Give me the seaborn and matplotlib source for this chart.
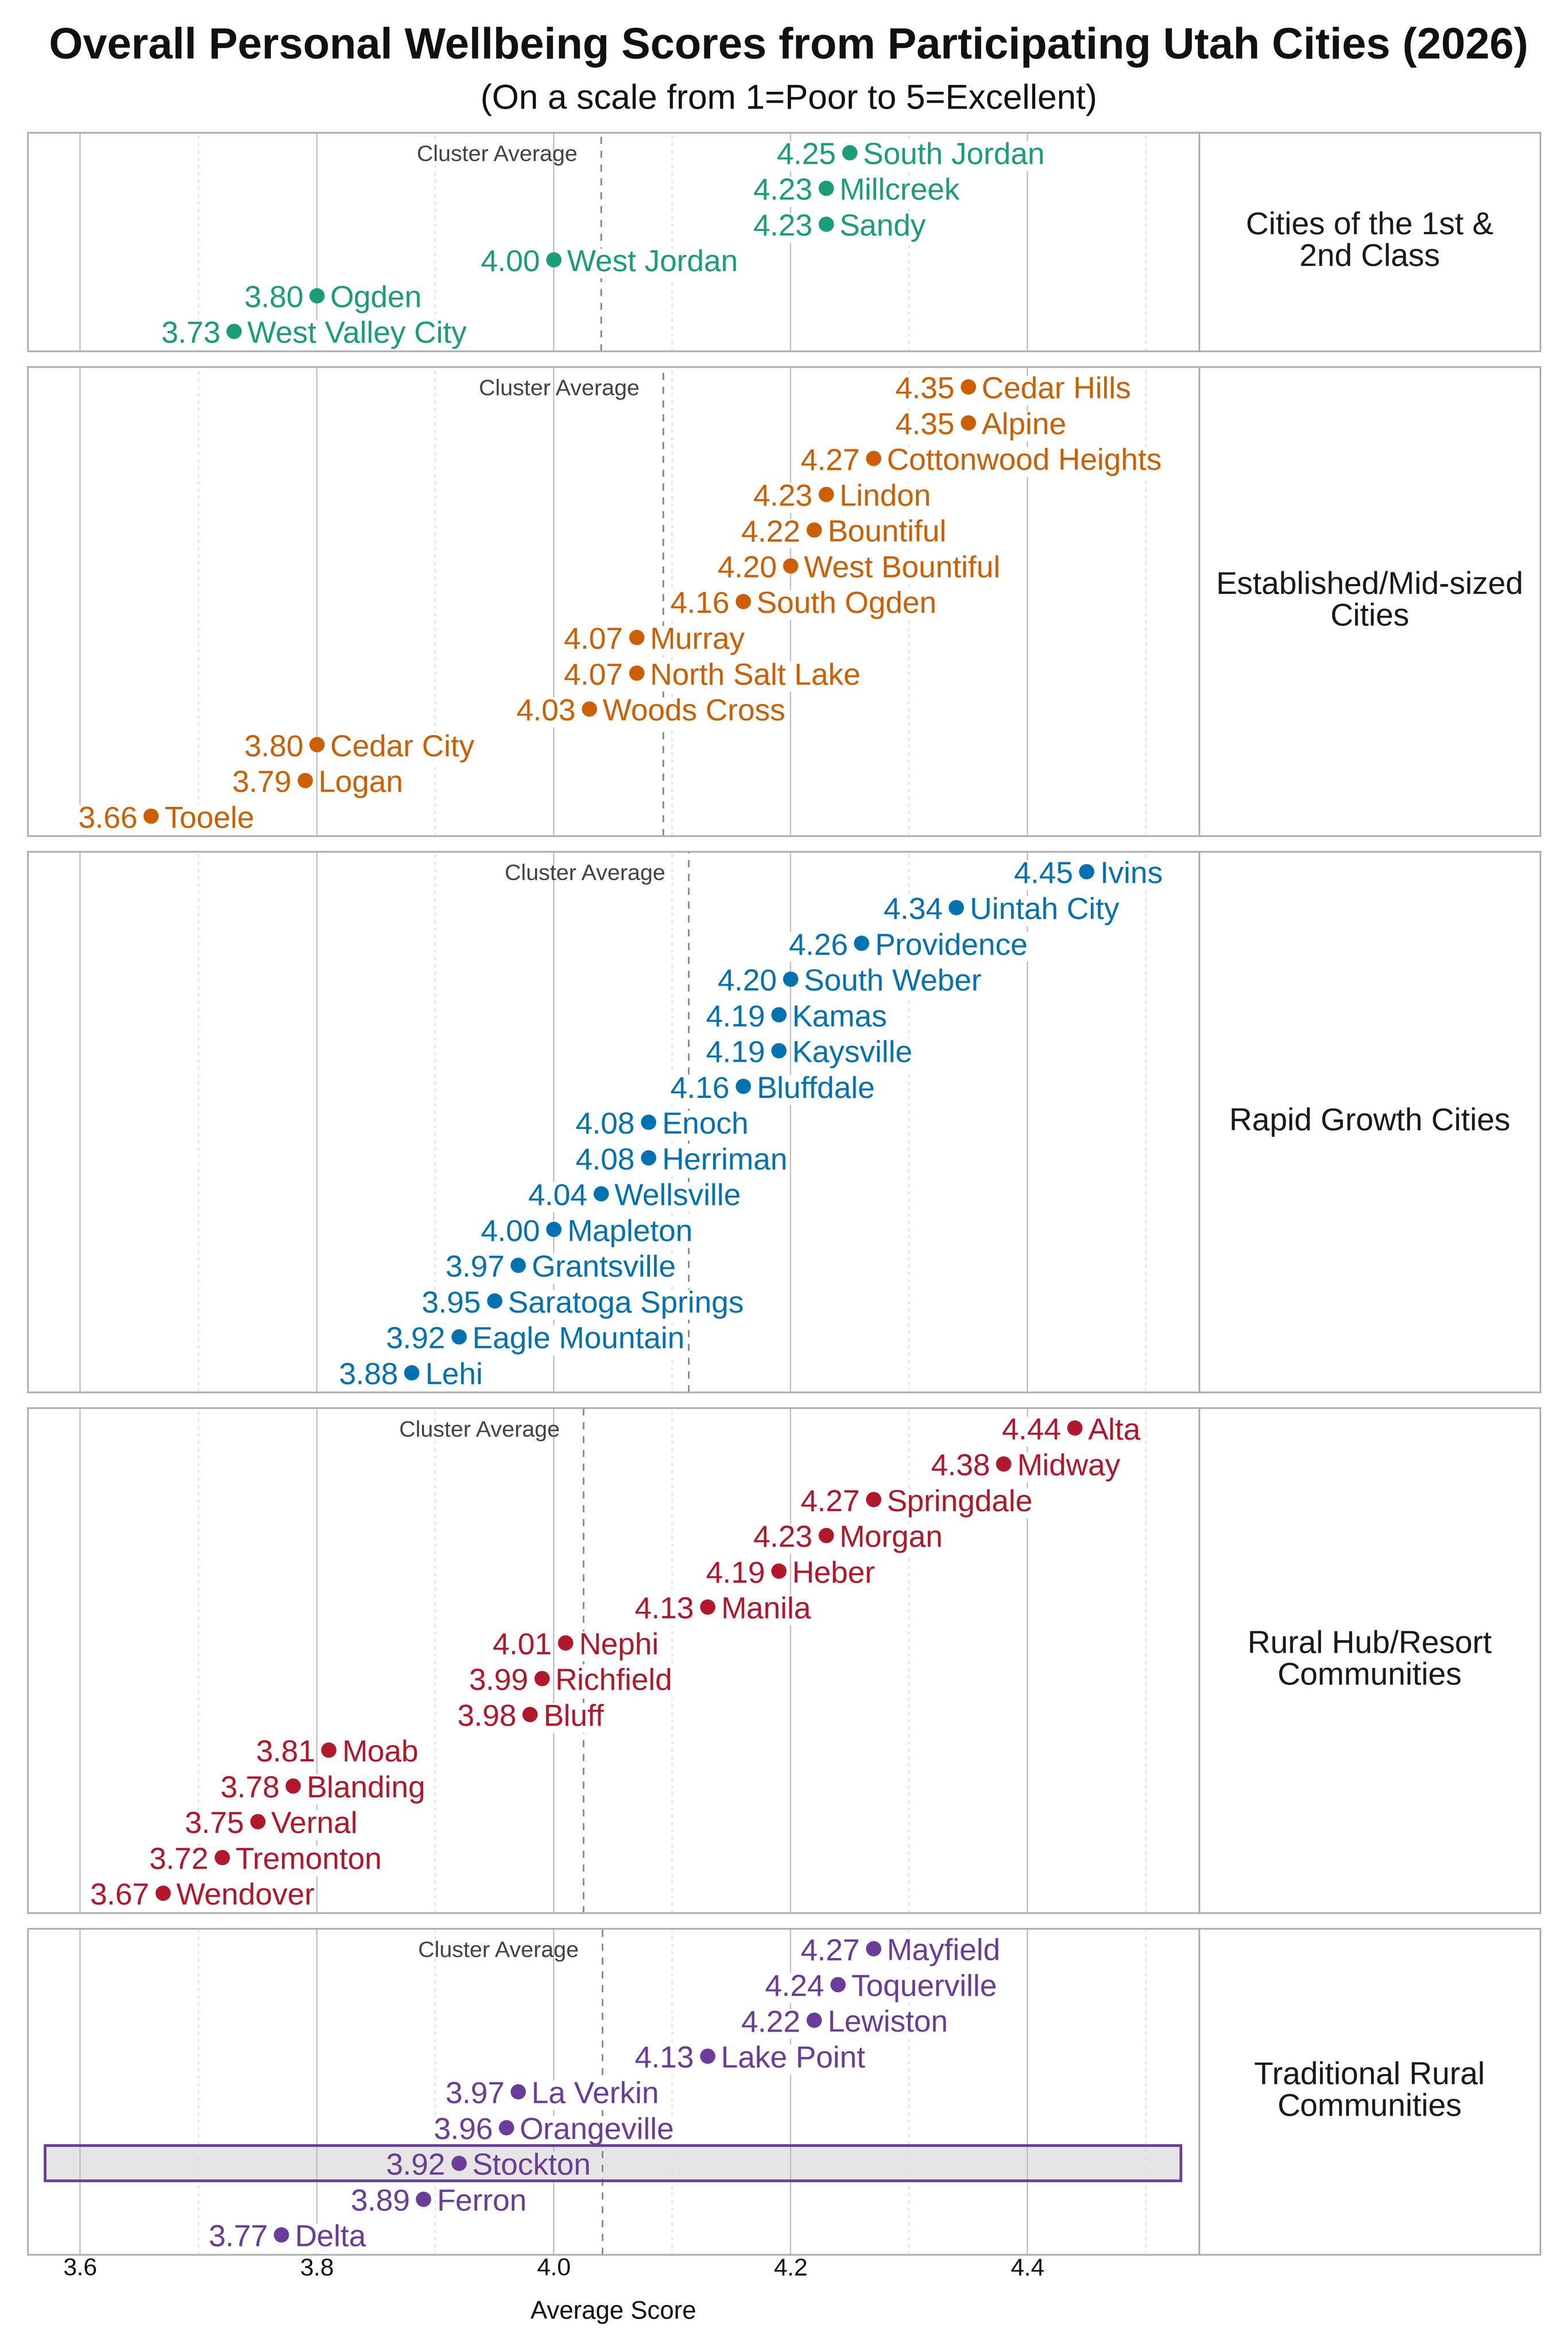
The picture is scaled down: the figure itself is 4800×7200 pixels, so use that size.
import pandas as pd
import seaborn as sns
import matplotlib.pyplot as plt
from matplotlib.patches import Rectangle
from matplotlib.transforms import blended_transform_factory

# === Data ===
cluster_names = [
    "Cities of the 1st &\n2nd Class",
    "Established/Mid-sized\nCities",
    "Rapid Growth Cities",
    "Rural Hub/Resort\nCommunities",
    "Traditional Rural\nCommunities",
]
cluster_colors = ["#1b9e77", "#cc6000", "#0072b2", "#b2182b", "#6a3d9a"]

first_class_cities = ["South Jordan", "Millcreek", "Sandy", "West Jordan", "Ogden", "West Valley City"]
first_class_scores = [4.25, 4.23, 4.23, 4.00, 3.80, 3.73]

established_cities = ["Cedar Hills", "Alpine", "Cottonwood Heights", "Lindon", "Bountiful",
                      "West Bountiful", "South Ogden", "Murray", "North Salt Lake", "Woods Cross",
                      "Cedar City", "Logan", "Tooele"]
established_scores = [4.35, 4.35, 4.27, 4.23, 4.22, 4.20, 4.16, 4.07, 4.07, 4.03, 3.80, 3.79, 3.66]

rapid_growth_cities = ["Ivins", "Uintah City", "Providence", "South Weber", "Kamas", "Kaysville",
                       "Bluffdale", "Enoch", "Herriman", "Wellsville", "Mapleton", "Grantsville",
                       "Saratoga Springs", "Eagle Mountain", "Lehi"]
rapid_growth_scores = [4.45, 4.34, 4.26, 4.20, 4.19, 4.19, 4.16, 4.08, 4.08, 4.04, 4.00, 3.97,
                       3.95, 3.92, 3.88]

rural_hub_cities = ["Alta", "Midway", "Springdale", "Morgan", "Heber", "Manila", "Nephi",
                    "Richfield", "Bluff", "Moab", "Blanding", "Vernal", "Tremonton", "Wendover"]
rural_hub_scores = [4.44, 4.38, 4.27, 4.23, 4.19, 4.13, 4.01, 3.99, 3.98, 3.81, 3.78, 3.75,
                    3.72, 3.67]

traditional_cities = ["Mayfield", "Toquerville", "Lewiston", "Lake Point", "La Verkin",
                      "Orangeville", "Stockton", "Ferron", "Delta"]
traditional_scores = [4.27, 4.24, 4.22, 4.13, 3.97, 3.96, 3.92, 3.89, 3.77]

highlight_city = "Stockton"

panels = [
    (first_class_cities, first_class_scores),
    (established_cities, established_scores),
    (rapid_growth_cities, rapid_growth_scores),
    (rural_hub_cities, rural_hub_scores),
    (traditional_cities, traditional_scores),
]

major_ticks = [3.6, 3.8, 4.0, 4.2, 4.4]
minor_ticks = [3.7, 3.9, 4.1, 4.3, 4.5]

# === Style ===
sns.set_theme(style="white")
plt.rcParams['font.family'] = ['Liberation Sans', 'DejaVu Sans']

W, H = 1040, 1560  # layout units (pixels at 100 dpi)
fig = plt.figure(figsize=(W / 100, H / 100))

# panel layout (in layout pixels)
top_px, row_px, pad_px, gap_px = 87.9, 23.73, 13.2, 10.4
left_px, split_px, right_px = 18.5, 795.3, 1021.5
pad_rows = pad_px / row_px
edge = "#adadad"
label_size = 14.6

y_cur = top_px
for i, ((cities, scores), label, color) in enumerate(zip(panels, cluster_names, cluster_colors)):
    h = (len(cities) - 1) * row_px + 2 * pad_px
    y0 = 1 - (y_cur + h) / H
    ax = fig.add_axes([left_px / W, y0, (split_px - left_px) / W, h / H])
    strip = fig.add_axes([split_px / W, y0, (right_px - split_px) / W, h / H])
    y_cur += h + gap_px

    df = pd.DataFrame({"city": cities, "score": scores, "pos": range(len(cities))})
    avg = df["score"].mean()

    sns.scatterplot(data=df, x="score", y="pos", color=color, s=53, linewidth=0,
                    ax=ax, zorder=4, legend=False)

    ax.set_xlim(3.556, 4.545)
    ax.set_ylim(len(cities) - 1 + pad_rows, -pad_rows)
    ax.set_xticks(major_ticks)
    ax.set_xticks(minor_ticks, minor=True)
    ax.set_yticks([])
    ax.set_axisbelow(True)
    ax.grid(which="major", axis="x", color="#bdbdbd", lw=0.6)
    ax.grid(which="minor", axis="x", color="#d9d9d9", lw=0.5, ls=(0, (3, 4)))
    ax.tick_params(axis="x", which="both", length=0, pad=1.5, labelsize=11.7, labelcolor="#111111")
    ax.set_ylabel("")
    ax.set_xlabel("")
    for sp in ax.spines.values():
        sp.set_color(edge)
        sp.set_linewidth(0.8)

    ax.axvline(avg, color="#8a8a8a", lw=0.8, ls=(0, (4.25, 4.0)), zorder=2)
    ax.annotate("Cluster Average", (avg, 0), xytext=(-11.2, -4.1), textcoords="offset points",
                ha="right", va="baseline", fontsize=10.8, color="#444444", zorder=2)

    for _, row in df.iterrows():
        bg = "white"
        if row["city"] == highlight_city:
            bg = "#e5e5e5"
            tr = blended_transform_factory(ax.transAxes, ax.transData)
            # fill below the grid, outline above the labels
            ax.add_patch(Rectangle((0.0147, row["pos"] - 0.495), 0.9698, 0.99, transform=tr,
                                   facecolor="#e5e5e5", edgecolor="none", zorder=0.4))
            ax.add_patch(Rectangle((0.0147, row["pos"] - 0.495), 0.9698, 0.99, transform=tr,
                                   facecolor="none", edgecolor=color, lw=1.3, zorder=3.5))
        box = dict(boxstyle="square,pad=0.03", fc=bg, ec="none")
        ax.annotate(f"{row['score']:.2f}", (row["score"], row["pos"]), xytext=(-6.4, -5.5),
                    textcoords="offset points", ha="right", va="baseline", fontsize=label_size,
                    color=color, bbox=box, zorder=3)
        ax.annotate(row["city"], (row["score"], row["pos"]), xytext=(6.4, -5.5),
                    textcoords="offset points", ha="left", va="baseline", fontsize=label_size,
                    color=color, bbox=box, zorder=3)

    if i < len(panels) - 1:
        ax.tick_params(axis="x", labelbottom=False)
    else:
        ax.set_xlabel("Average Score", fontsize=12, color="#111111")
        ax.xaxis.label.set_va("baseline")
        ax.xaxis.set_label_coords(0.5, -(1538 - (y_cur - gap_px)) / h)

    strip.set_xticks([])
    strip.set_yticks([])
    for sp in strip.spines.values():
        sp.set_color(edge)
        sp.set_linewidth(0.8)
    strip.text(0.5, 0.5, label, ha="center", va="center", fontsize=15.1, color="#1a1a1a",
               linespacing=1.1, transform=strip.transAxes)

fig.text(0.503, 1 - 38.8 / H, "Overall Personal Wellbeing Scores from Participating Utah Cities (2026)",
         ha="center", va="baseline", fontsize=20.8, fontweight="bold", color="#111111")
fig.text(0.503, 1 - 72.2 / H, "(On a scale from 1=Poor to 5=Excellent)",
         ha="center", va="baseline", fontsize=16.5, color="#111111")

fig.savefig("out.png", dpi=461.54)
